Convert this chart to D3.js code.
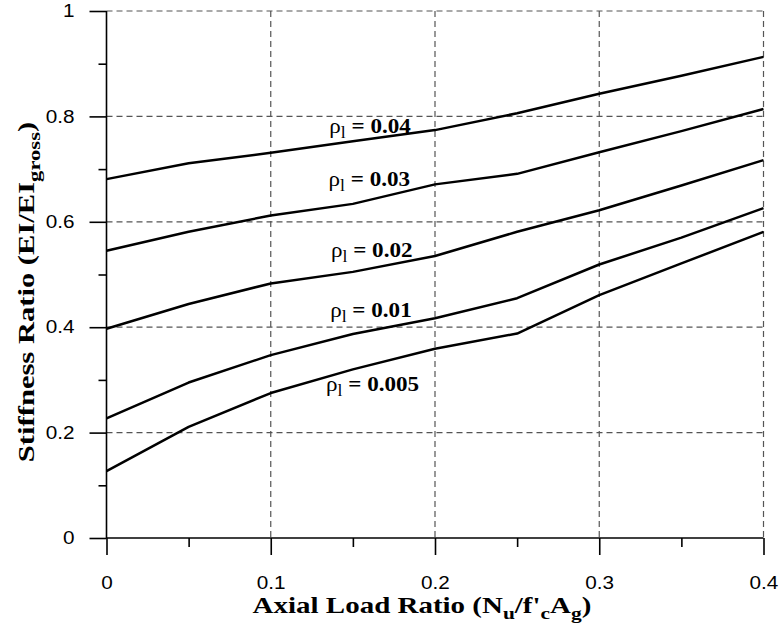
<!DOCTYPE html>
<html lang="en">
<head>
    <meta charset="UTF-8">
    <title>Stiffness Ratio</title>
    <script src="https://cdn.jsdelivr.net/npm/d3@7"></script>
    <style>
        body { margin: 0; background: #fff; }
    </style>
</head>
<body>
<div id="chart"></div>
<script>
    // axial load ratio values
    var axial = [0, 0.05, 0.1, 0.15, 0.2, 0.25, 0.3, 0.35, 0.4];
    // one curve per reinforcement ratio
    var rho = ["0.04", "0.03", "0.02", "0.01", "0.005"];
    var s004 = [0.681, 0.711, 0.731, 0.753, 0.774, 0.806, 0.843, 0.877, 0.913];
    var s003 = [0.545, 0.581, 0.612, 0.634, 0.671, 0.691, 0.732, 0.772, 0.814];
    var s002 = [0.397, 0.444, 0.483, 0.505, 0.535, 0.581, 0.622, 0.669, 0.717];
    var s001 = [0.227, 0.295, 0.347, 0.387, 0.417, 0.455, 0.519, 0.570, 0.626];
    var s0005 = [0.127, 0.211, 0.275, 0.320, 0.359, 0.388, 0.461, 0.521, 0.581];
    // label anchor points (axial ratio, stiffness ratio)
    var labelX = [0.1605, 0.160, 0.1615, 0.161, 0.162];
    var labelY = [0.769, 0.667, 0.534, 0.419, 0.278];
    var xTicks = [0, 0.1, 0.2, 0.3, 0.4];
    var xMinor = [0.05, 0.15, 0.25, 0.35];
    var yTicks = [0, 0.2, 0.4, 0.6, 0.8, 1];
    var yMinor = [0.1, 0.3, 0.5, 0.7, 0.9];

    var series = [s004, s003, s002, s001, s0005];

    var W = 783, H = 630;
    var svg = d3.select("#chart").append("svg")
        .attr("width", W)
        .attr("height", H);

    var x = d3.scaleLinear().domain([0, 0.4]).range([106.5, 763.5]);
    var y = d3.scaleLinear().domain([0, 1]).range([538, 11]);

    // the original text is a bit wider than the fonts we have
    function stretch(sel, k) {
        sel.each(function () {
            var len = this.getComputedTextLength();
            d3.select(this).attr("textLength", len * k).attr("lengthAdjust", "spacingAndGlyphs");
        });
    }

    // dashed grid
    var grid = svg.append("g")
        .attr("stroke", "#555")
        .attr("stroke-width", 1.2)
        .attr("stroke-dasharray", "6,4");
    grid.selectAll(".gy").data(yTicks.slice(1)).enter().append("line")
        .attr("x1", x(0)).attr("x2", x(0.4))
        .attr("y1", d => y(d)).attr("y2", d => y(d));
    grid.selectAll(".gx").data(xTicks.slice(1)).enter().append("line")
        .attr("x1", d => x(d)).attr("x2", d => x(d))
        .attr("y1", y(1)).attr("y2", y(0));

    // axes
    var xAxis = d3.axisBottom(x).tickValues(xTicks).tickSize(17).tickPadding(21)
        .tickFormat(d => d === 0 ? "0" : d3.format(".1f")(d));
    var yAxis = d3.axisLeft(y).tickValues(yTicks).tickSize(17).tickPadding(15)
        .tickFormat(d => (d === 0 || d === 1) ? String(d) : d3.format(".1f")(d));

    var gx = svg.append("g").attr("transform", "translate(0," + y(0) + ")").call(xAxis);
    var gy = svg.append("g").attr("transform", "translate(" + x(0) + ",0)").call(yAxis);
    svg.append("g").attr("transform", "translate(0," + y(0) + ")")
        .call(d3.axisBottom(x).tickValues(xMinor).tickSize(9).tickFormat(""))
        .select(".domain").remove();
    svg.append("g").attr("transform", "translate(" + x(0) + ",0)")
        .call(d3.axisLeft(y).tickValues(yMinor).tickSize(8).tickFormat(""))
        .select(".domain").remove();

    gx.select(".domain").attr("d", "M" + x(0) + ",0H" + x(0.4));
    gy.select(".domain").attr("d", "M0," + y(0) + "V" + y(1));
    svg.selectAll(".domain, .tick line")
        .attr("stroke", "#000")
        .attr("stroke-width", 1.6);
    svg.selectAll(".tick text")
        .attr("font-family", "Liberation Sans, Arial, sans-serif")
        .attr("font-size", 18)
        .attr("fill", "#000")
        .call(stretch, 1.15);

    // curves
    var line = d3.line().x((d, i) => x(axial[i])).y(d => y(d));
    svg.selectAll(".curve").data(series).enter().append("path")
        .attr("class", "curve")
        .attr("d", line)
        .attr("fill", "none")
        .attr("stroke", "#000")
        .attr("stroke-width", 2.5)
        .attr("stroke-linejoin", "round");

    // curve labels
    var lab = svg.selectAll(".lab").data(rho).enter().append("text")
        .attr("class", "lab")
        .attr("x", (d, i) => x(labelX[i]))
        .attr("y", (d, i) => y(labelY[i]))
        .attr("text-anchor", "middle")
        .attr("font-family", "Liberation Serif, Times New Roman, serif")
        .attr("font-size", 21)
        .attr("fill", "#000");
    lab.append("tspan").text("ρ");
    lab.append("tspan").attr("dy", 5).attr("font-size", 16).text("l");
    lab.append("tspan").attr("dy", -5).attr("font-weight", "bold").text(d => " = " + d);
    lab.call(stretch, 1.1);

    // axis titles (scaled sideways to the width of the original lettering)
    var xt = svg.append("text")
        .attr("transform", "translate(422,613) scale(1.26,1)")
        .attr("text-anchor", "middle")
        .attr("font-family", "Liberation Serif, Times New Roman, serif")
        .attr("font-weight", "bold")
        .attr("font-size", 23)
        .attr("fill", "#000");
    xt.append("tspan").text("Axial Load Ratio (N");
    xt.append("tspan").attr("dy", 6).attr("font-size", 17).text("u");
    xt.append("tspan").attr("dy", -6).text("/f'");
    xt.append("tspan").attr("dy", 6).attr("font-size", 17).text("c");
    xt.append("tspan").attr("dy", -6).text("A");
    xt.append("tspan").attr("dy", 6).attr("font-size", 17).text("g");
    xt.append("tspan").attr("dy", -6).text(")");

    var yt = svg.append("text")
        .attr("transform", "translate(34,292) rotate(-90) scale(1.33,1)")
        .attr("text-anchor", "middle")
        .attr("font-family", "Liberation Serif, Times New Roman, serif")
        .attr("font-weight", "bold")
        .attr("font-size", 23)
        .attr("fill", "#000");
    yt.append("tspan").text("Stiffness Ratio (EI/EI");
    yt.append("tspan").attr("dy", 6).attr("font-size", 17).text("gross");
    yt.append("tspan").attr("dy", -6).text(")");
</script>
</body>
</html>
